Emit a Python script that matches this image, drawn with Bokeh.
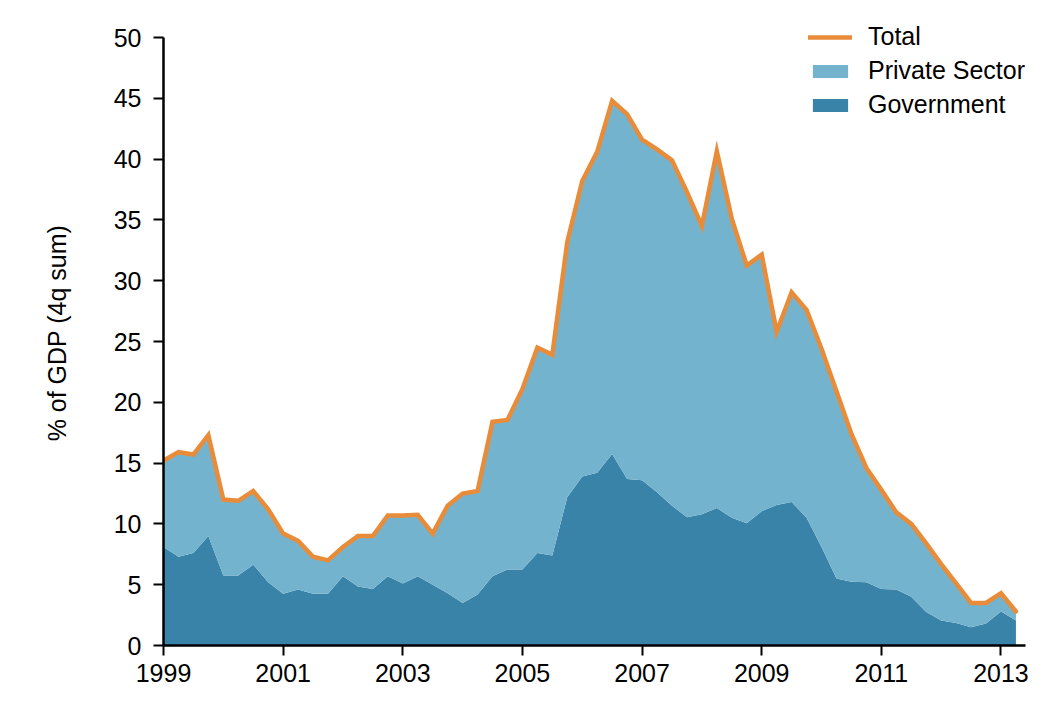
from bokeh.plotting import figure
from bokeh.models import ColumnDataSource, Range1d, FixedTicker, Legend, LegendItem
from bokeh.embed import file_html
from bokeh.resources import INLINE

# Quarterly observations, 1999Q1 .. 2013Q2
start_year = 1999
n_quarters = 58
quarters = [start_year + 0.25 * i for i in range(n_quarters)]

# Total, % of GDP (4-quarter sum)
total = [
    15.2, 15.9, 15.7, 17.3, 12.0, 11.9, 12.7, 11.2,
    9.2, 8.6, 7.3, 7.0, 8.1, 9.0, 9.0, 10.7,
    10.7, 10.75, 9.2, 11.5, 12.5, 12.7, 18.4, 18.55,
    21.1, 24.5, 23.9, 33.2, 38.2, 40.6, 44.8, 43.7,
    41.6, 40.8, 39.9, 37.3, 34.5, 40.65, 35.1, 31.25,
    32.15, 25.8, 29.05, 27.6, 24.4, 20.9, 17.4, 14.6,
    12.8, 10.95, 10.0, 8.4, 6.7, 5.1, 3.5, 3.5,
    4.3, 2.8,
]

# Government component, % of GDP (4-quarter sum)
government = [
    8.1, 7.3, 7.6, 9.0, 5.75, 5.75, 6.65, 5.2,
    4.25, 4.6, 4.25, 4.25, 5.7, 4.85, 4.65, 5.7,
    5.1, 5.7, 5.0, 4.3, 3.5, 4.2, 5.7, 6.25,
    6.25, 7.6, 7.4, 12.2, 13.9, 14.2, 15.75, 13.7,
    13.6, 12.6, 11.5, 10.55, 10.8, 11.3, 10.5, 10.05,
    11.05, 11.55, 11.8, 10.5, 8.1, 5.5, 5.25, 5.2,
    4.65, 4.6, 4.0, 2.75, 2.05, 1.85, 1.5, 1.8,
    2.8, 2.05,
]

# Private sector is the remainder of the total
private = [t - g for t, g in zip(total, government)]

year_ticks = [1999, 2001, 2003, 2005, 2007, 2009, 2011, 2013]
pct_ticks = [0, 5, 10, 15, 20, 25, 30, 35, 40, 45, 50]

ORANGE = "#E88C3A"
LIGHT_BLUE = "#74B3CE"
DARK_BLUE = "#3983A8"
FONT = "Liberation Sans"
FONT_SIZE = "25px"

src = ColumnDataSource(dict(x=quarters, government=government,
                            private=private, total=total))

# A little headroom above 50 so the legend's first row is not clipped;
# the y axis itself is bounded to 0..50.
p = figure(width=1062, height=717, output_backend="svg", toolbar_location=None,
           x_range=Range1d(1999, 2013.41), y_range=Range1d(0, 51.4),
           min_border_left=163, min_border_right=37,
           min_border_top=20, min_border_bottom=72)
p.outline_line_color = None
p.xgrid.visible = False
p.ygrid.visible = False
p.background_fill_color = "white"
p.border_fill_color = "white"

areas = p.varea_stack(["government", "private"], x="x",
                      color=[DARK_BLUE, LIGHT_BLUE], source=src)
tot_line = p.line("x", "total", source=src, line_color=ORANGE, line_width=4.5,
                  line_join="miter", line_cap="round")

for ax in (p.xaxis[0], p.yaxis[0]):
    ax.axis_line_color = "black"
    ax.axis_line_width = 2.5
    ax.major_tick_line_color = "black"
    ax.major_tick_line_width = 2
    ax.major_tick_out = 10
    ax.major_tick_in = 0
    ax.minor_tick_line_color = None
    ax.major_label_text_font = FONT
    ax.major_label_text_font_size = FONT_SIZE
    ax.major_label_text_color = "black"

p.xaxis.ticker = FixedTicker(ticks=year_ticks)
p.xaxis.major_label_standoff = 8
p.yaxis.ticker = FixedTicker(ticks=pct_ticks)
p.yaxis.bounds = (0, 50)
p.yaxis.major_label_standoff = 12
p.yaxis.axis_label = "% of GDP (4q sum)"
p.yaxis.axis_label_text_font = FONT
p.yaxis.axis_label_text_font_size = FONT_SIZE
p.yaxis.axis_label_text_font_style = "normal"
p.yaxis.axis_label_text_color = "black"
p.yaxis.axis_label_standoff = 40

# Legend anchored by its bottom-left corner, in pixels from the frame's bottom-left
legend = Legend(items=[
    LegendItem(label="Total", renderers=[tot_line]),
    LegendItem(label="Private Sector", renderers=[areas[1]]),
    LegendItem(label="Government", renderers=[areas[0]]),
], location=(645, 526))
legend.border_line_color = None
legend.background_fill_alpha = 0
legend.padding = 0
legend.margin = 0
legend.spacing = 5
legend.glyph_width = 44
legend.glyph_height = 16
legend.label_standoff = 16
legend.label_text_font = FONT
legend.label_text_font_size = FONT_SIZE
legend.label_text_color = "black"
p.add_layout(legend)

open("out.html", "w").write(file_html(p, INLINE))
